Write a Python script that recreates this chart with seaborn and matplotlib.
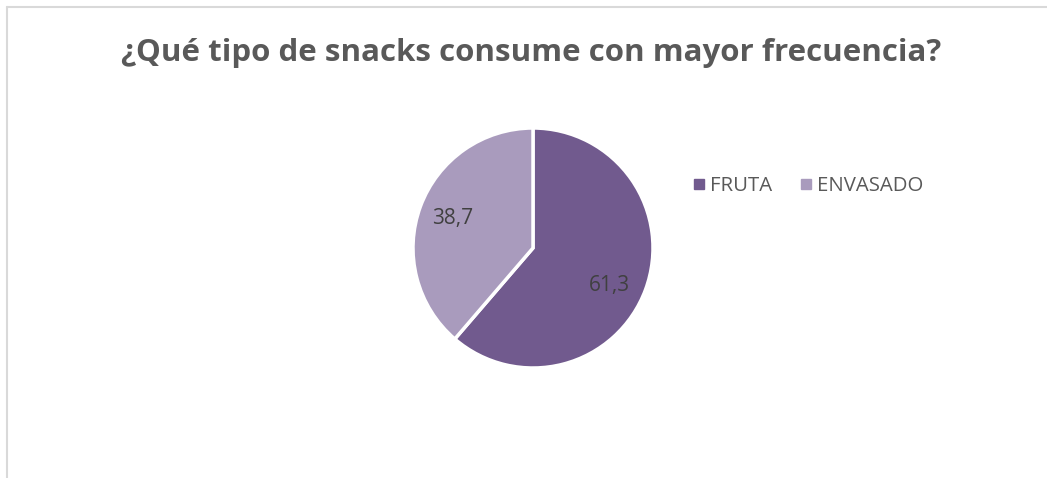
import matplotlib
matplotlib.use("Agg")
import matplotlib.pyplot as plt
import seaborn as sns
import numpy as np
from matplotlib.lines import Line2D

categories = ["FRUTA", "ENVASADO"]
values = [61.3, 38.7]
colors = ["#715A8E", "#A99BBD"]
title = "¿Qué tipo de snacks consume con mayor frecuencia?"

sns.set_theme(style="white")
plt.rcParams['font.family'] = ['Open Sans', 'DejaVu Sans']

W, H = 1047, 478
fig = plt.figure(figsize=(W / 100, H / 100), dpi=100)
fig.patch.set_facecolor("white")

cx, cy, r = 533, 248, 120
ax = fig.add_axes([(cx - r) / W, (H - cy - r) / H, 2 * r / W, 2 * r / H])

def fmt(v):
    return f"{v:.1f}".replace(".", ",")

wedges, texts = ax.pie(
    values, colors=colors, startangle=90, counterclock=False, radius=1,
    wedgeprops=dict(edgecolor="white", linewidth=2.5),
)
angle_shift = [-6, 0]  # label placement tweak (degrees), like Excel's best fit
for w, v, s in zip(wedges, values, angle_shift):
    ang = np.deg2rad((w.theta1 + w.theta2) / 2 + s)
    ax.text(0.71 * np.cos(ang), 0.71 * np.sin(ang), fmt(v), ha="center", va="center",
            fontsize=15, color="#404040")
ax.set_xlim(-1, 1)
ax.set_ylim(-1, 1)
ax.set_aspect("equal")
ax.axis("off")

fig.text(531 / W, 1 - 53 / H, title, ha="center", va="center",
         fontsize=22.5, fontweight="bold", color="#595959")

handles = [Line2D([0], [0], marker="s", linestyle="none", markersize=7,
                  markerfacecolor=c, markeredgecolor=c) for c in colors]
fig.legend(handles, categories, loc="center left", bbox_to_anchor=(673 / W, 1 - 186 / H),
           ncol=2, frameon=False, fontsize=14.7, labelcolor="#595959",
           handletextpad=0.2, columnspacing=1.3, handlelength=0.7)

border = "#D9D9D9"
fig.add_artist(Line2D([6.5 / W, 1], [1 - 6.5 / H, 1 - 6.5 / H], color=border, linewidth=1.5,
                      transform=fig.transFigure))
fig.add_artist(Line2D([6.5 / W, 6.5 / W], [0, 1 - 6.5 / H], color=border, linewidth=1.5,
                      transform=fig.transFigure))

fig.savefig("out.png", dpi=100, facecolor="white")
